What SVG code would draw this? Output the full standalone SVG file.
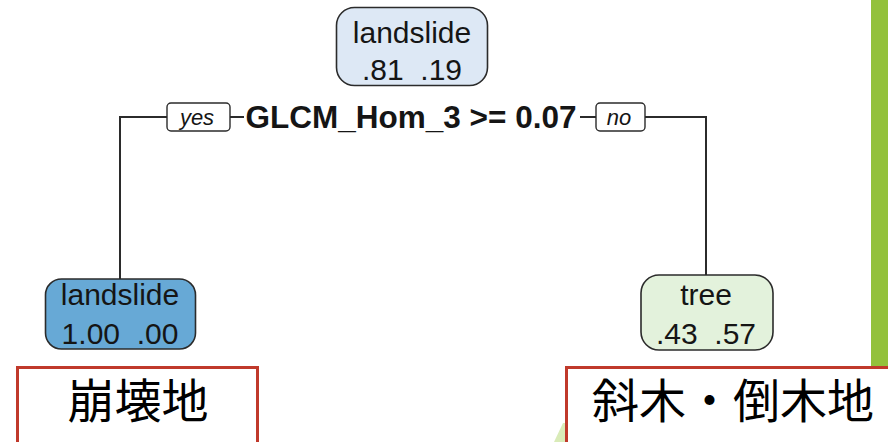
<svg xmlns="http://www.w3.org/2000/svg" width="888" height="442" viewBox="0 0 888 442">
<style>
.node{stroke:#2b2b2b;stroke-width:1.6}
.nt{font-family:"Liberation Sans",Arial,sans-serif;font-size:30px;fill:#151515;text-anchor:middle;white-space:pre}
.lab{fill:#fff;stroke:#2b2b2b;stroke-width:1.4}
.lt{font-family:"Liberation Sans",Arial,sans-serif;font-size:22px;font-style:italic;fill:#151515;text-anchor:middle}
.conn{fill:none;stroke:#2b2b2b;stroke-width:2}
.red{fill:#fff;stroke:#c0392b;stroke-width:3}
.cjk{font-family:"Noto Sans CJK JP","Noto Sans CJK SC",sans-serif;font-size:47px;fill:#000;text-anchor:middle}
</style>
<rect x="0" y="0" width="888" height="442" fill="#fff"/>
<rect x="871" y="0" width="17" height="366" fill="#93c13b"/>
<polygon points="554,442 563,423 566,423 566,442" fill="#d9ebb8"/>
<g id="connectors">
<polyline class="conn" points="167,117 120,117 120,279"/>
<polyline class="conn" points="645,117 706,117 706,275"/>
<line class="conn" x1="230" y1="117" x2="244" y2="117"/>
<line class="conn" x1="580" y1="117" x2="596" y2="117"/>
</g>
<g id="root">
<rect class="node" x="336.5" y="7.5" width="151" height="78" rx="18" fill="#dde8f5"/>
<text class="nt" x="412" y="43">landslide</text>
<text class="nt" x="412" y="80">.81  .19</text>
</g>
<g id="split">
<rect class="lab" x="167" y="103" width="63" height="28" rx="4"/>
<text class="lt" x="197" y="125">yes</text>
<text x="411" y="128" font-family="Liberation Sans,Arial,sans-serif" font-size="31.5" font-weight="bold" fill="#151515" text-anchor="middle">GLCM_Hom_3 &gt;= 0.07</text>
<rect class="lab" x="596" y="103" width="49" height="28" rx="4"/>
<text class="lt" x="619" y="125">no</text>
</g>
<g id="leaf-left">
<rect class="node" x="45.5" y="279" width="150" height="70" rx="16" fill="#67a9d6"/>
<text class="nt" x="120" y="305">landslide</text>
<text class="nt" x="120" y="344">1.00  .00</text>
</g>
<g id="leaf-right">
<rect class="node" x="641" y="275" width="132" height="75" rx="18" fill="#e3f2dc"/>
<text class="nt" x="706" y="305">tree</text>
<text class="nt" x="706" y="344">.43  .57</text>
</g>
<g id="box-left">
<rect class="red" x="17.5" y="367.5" width="240" height="80"/>
<text class="cjk" x="138" y="418">崩壊地</text>
</g>
<g id="box-right">
<rect class="red" x="566.5" y="367.5" width="330" height="80"/>
<text class="cjk" x="733" y="418">斜木・倒木地</text>
</g>
</svg>
